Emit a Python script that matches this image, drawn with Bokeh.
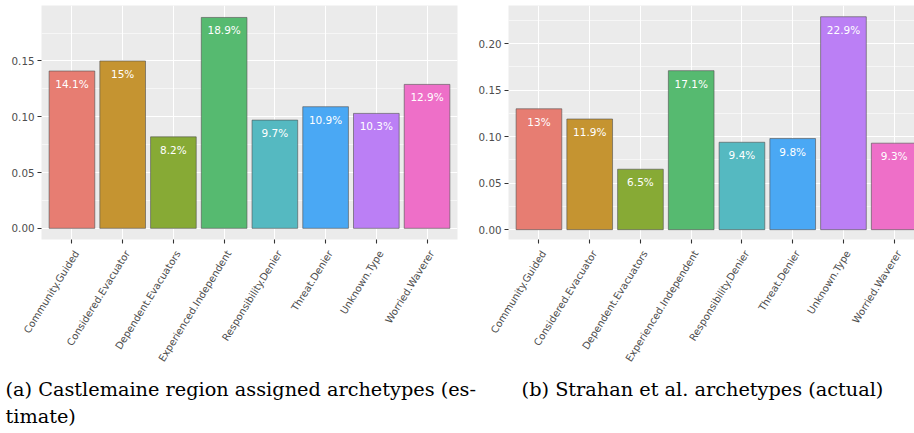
from bokeh.plotting import figure
from bokeh.models import (Range1d, FixedTicker, SingleIntervalTicker,
                          PrintfTickFormatter, ColumnDataSource)
from bokeh.layouts import row, column
from bokeh.core.properties import value
from bokeh.embed import file_html
from bokeh.resources import INLINE

# ---------------- data ----------------
categories = ["Community.Guided", "Considered.Evacuator", "Dependent.Evacuators",
              "Experienced.Independent", "Responsibility.Denier", "Threat.Denier",
              "Unknown.Type", "Worried.Waverer"]
values_a = [0.141, 0.150, 0.082, 0.189, 0.097, 0.109, 0.103, 0.129]
values_b = [0.130, 0.119, 0.065, 0.171, 0.094, 0.098, 0.229, 0.093]
colors = ["#E77D72", "#C59431", "#87AA35", "#56BA70",
          "#55B9C1", "#4AA8F4", "#BB7FF5", "#EE6FC8"]
caption_a1 = "(a) Castlemaine region assigned archetypes (es-"
caption_a2 = "timate)"
caption_b = "(b) Strahan et al. archetypes (actual)"

SANS = "DejaVu Sans"
SERIF = "DejaVu Serif"


def pct(v):
    return f"{v*100:.1f}".rstrip("0").rstrip(".") + "%"


def make_panel(vals, width, height, x_rng, y_rng, mb_left, mb_right,
               mb_top, mb_bottom):
    xs = list(range(1, len(categories) + 1))
    src = ColumnDataSource(dict(x=xs, top=vals, color=colors,
                                label=[pct(v) for v in vals]))
    p = figure(width=width, height=height, x_range=Range1d(*x_rng),
               y_range=Range1d(*y_rng), toolbar_location=None,
               output_backend="svg", min_border_top=mb_top,
               min_border_left=mb_left, min_border_right=mb_right,
               min_border_bottom=mb_bottom)
    p.background_fill_color = "#EBEBEB"
    p.border_fill_color = "white"
    p.outline_line_color = None

    p.vbar(x="x", top="top", bottom=0, width=0.9, fill_color="color",
           line_color="#505050", line_alpha=0.6, line_width=1, source=src)
    p.text(x="x", y="top", text="label", source=src, text_color="white",
           text_align="center", text_baseline="alphabetic", y_offset=13,
           text_font=value(SANS), text_font_size=value("10.5px"))

    xt = FixedTicker(ticks=xs, minor_ticks=[])
    p.xaxis.ticker = xt
    p.xgrid.ticker = xt
    # leading blank line makes each rotated label hang from its top-right corner
    p.xaxis.major_label_overrides = {x: "\n" + c for x, c in zip(xs, categories)}
    p.xaxis.major_label_orientation = 1.015

    yt = SingleIntervalTicker(interval=0.05, num_minor_ticks=2)
    p.yaxis.ticker = yt
    p.ygrid.ticker = yt
    p.yaxis.formatter = PrintfTickFormatter(format="%.2f")

    for ax in (p.xaxis, p.yaxis):
        ax.axis_line_color = None
        ax.major_tick_line_color = "#333333"
        ax.major_tick_line_width = 1.1
        ax.major_tick_out = 4
        ax.major_tick_in = 0
        ax.minor_tick_line_color = None
        ax.major_label_text_color = "#4D4D4D"
        ax.major_label_text_font = SANS
    p.yaxis.major_label_text_font_size = "10.3px"
    p.yaxis.major_label_standoff = 3
    p.xaxis.major_label_text_font_size = "10px"
    p.xaxis.major_label_text_line_height = 1.0
    p.xaxis.major_label_standoff = 5

    p.xgrid.grid_line_color = "white"
    p.xgrid.grid_line_width = 1.1
    p.ygrid.grid_line_color = "white"
    p.ygrid.grid_line_width = 1.1
    p.ygrid.minor_grid_line_color = "white"
    p.ygrid.minor_grid_line_width = 0.55
    return p


pa = make_panel(values_a, 466, 373, (0.4, 8.6), (-0.0100, 0.1997), 41, 9, 5, 131)
pb = make_panel(values_b, 448, 373, (0.4, 8.4), (-0.0106, 0.2411), 42, 0, 2, 134)

# captions (pixel-like ranges: data x/y = page x/y)
cap = figure(width=914, height=60, x_range=Range1d(0, 914),
             y_range=Range1d(433, 373), toolbar_location=None,
             output_backend="svg", min_border=0,
             x_axis_location=None, y_axis_location=None)
cap.outline_line_color = None
cap.grid.visible = False
cap_src = ColumnDataSource(dict(x=[5, 5, 702], y=[388.5, 415.5, 388.5],
                                text=[caption_a1, caption_a2, caption_b],
                                align=["left", "left", "center"]))
cap.text(x="x", y="y", text="text", text_align="align", source=cap_src,
         text_baseline="alphabetic", text_color="black",
         text_font=value(SERIF), text_font_size=value("19.3px"))

layout = column(row(pa, pb), cap)
open("out.html", "w").write(file_html(layout, INLINE))
